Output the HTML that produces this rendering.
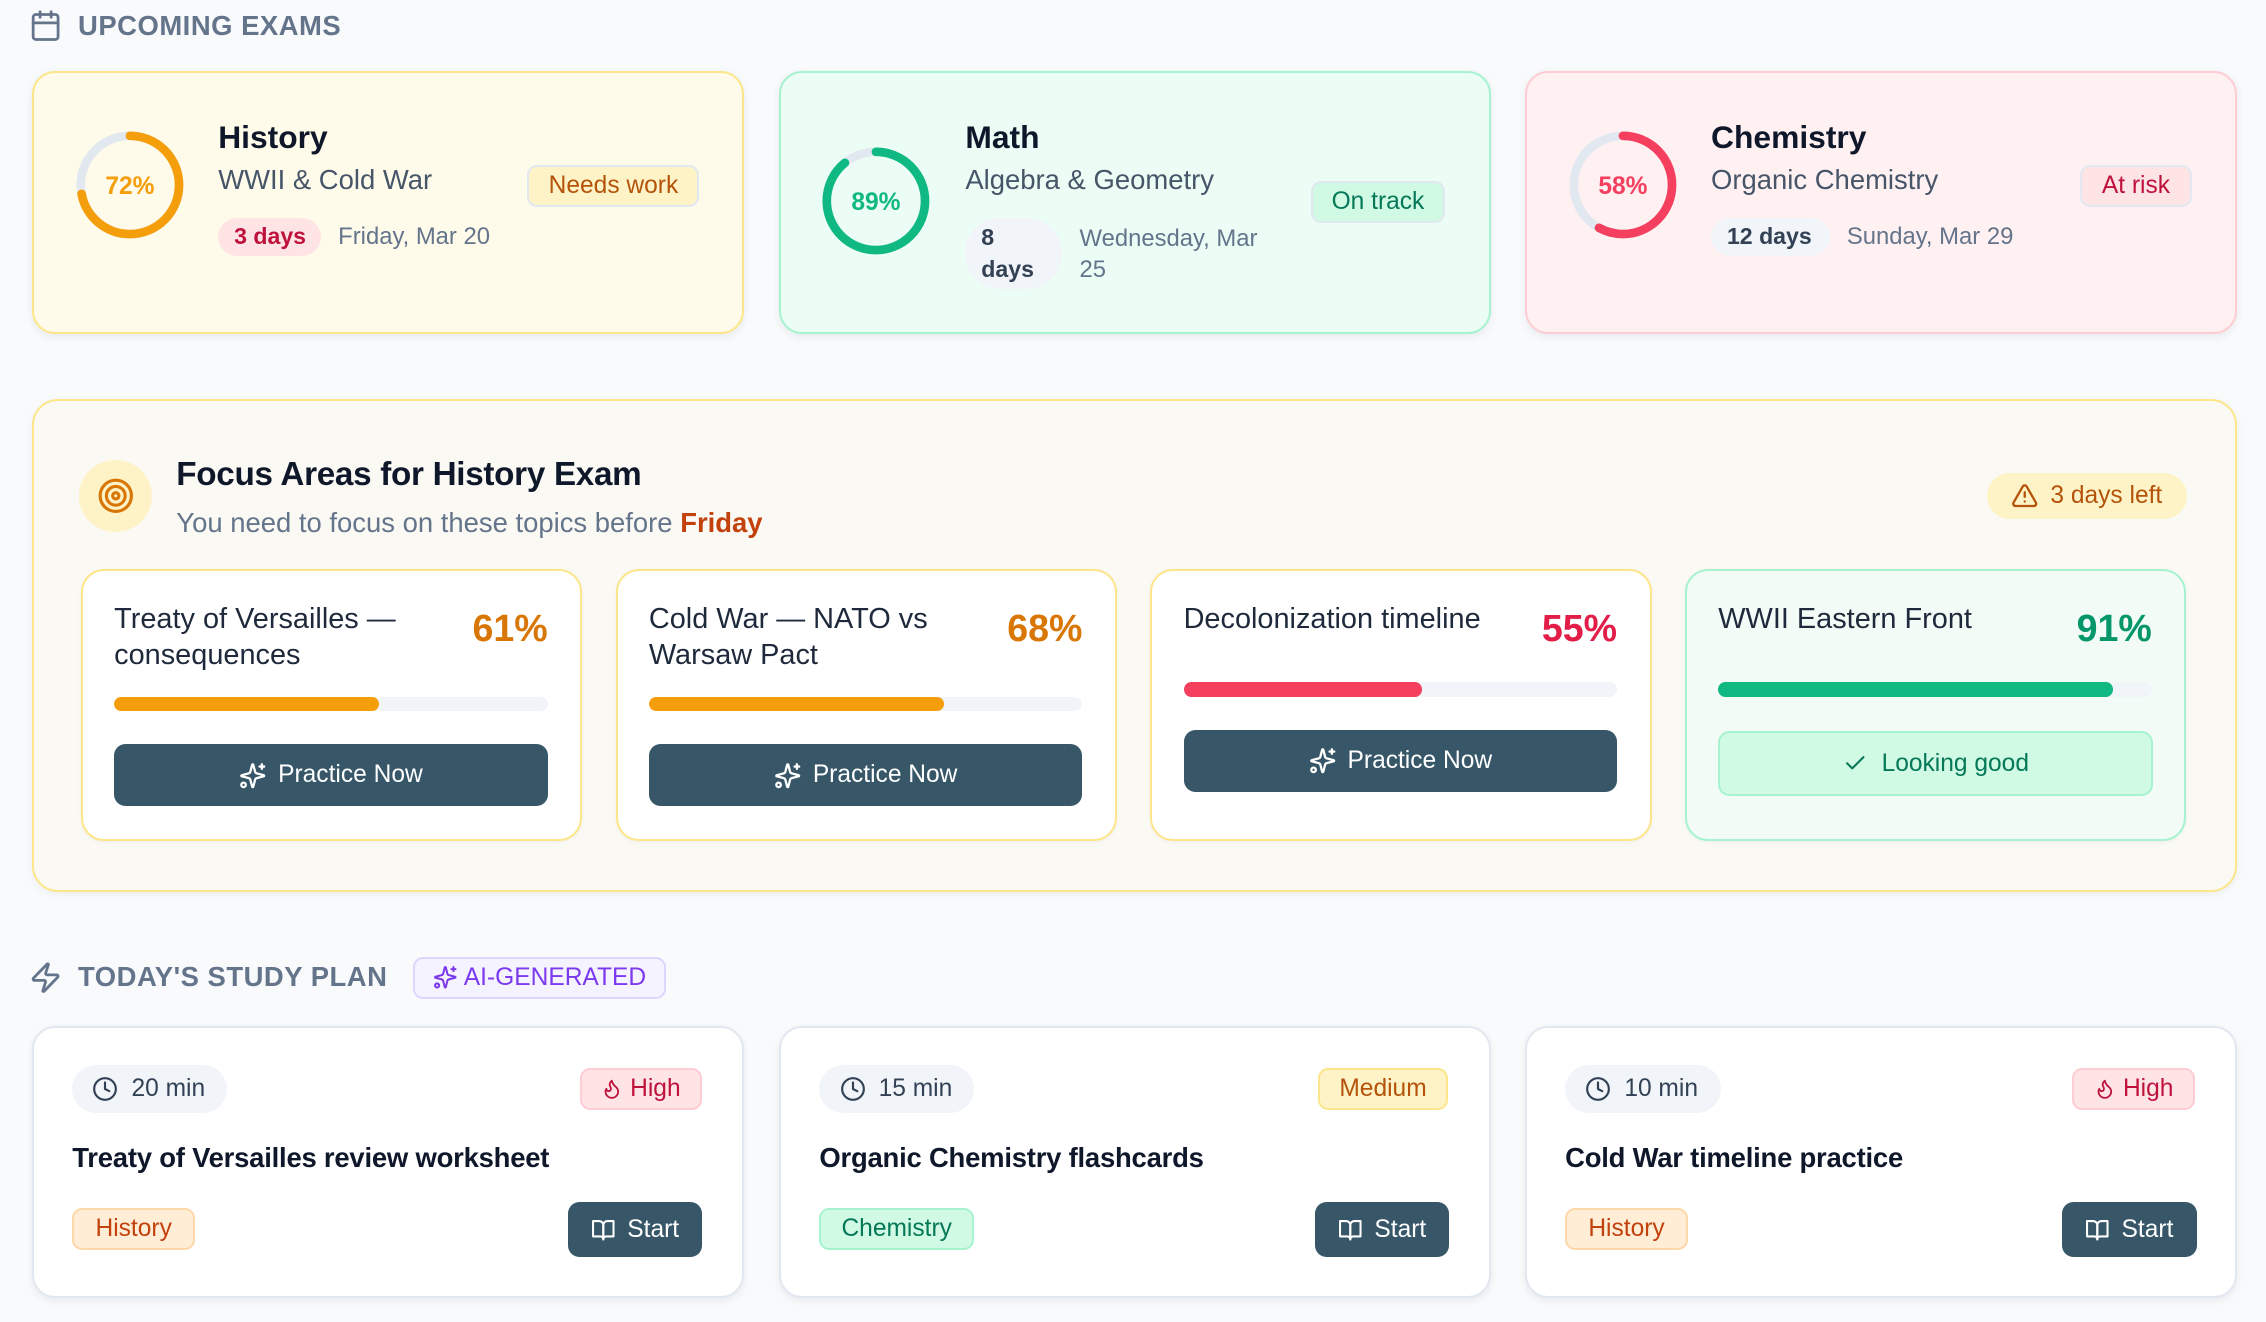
<!DOCTYPE html>
<html>
<head>
<meta charset="utf-8">
<style>
html,body{margin:0;padding:0;background:#f8fafc;width:2266px;height:1322px;overflow:hidden}
#r{position:absolute;left:0;top:0;width:1568px;height:915px;zoom:1.44515;font-family:"Liberation Sans",sans-serif;color:#0f172a}
.a{position:absolute;box-sizing:border-box;white-space:nowrap}
.ic{fill:none;stroke:currentColor;stroke-width:2;stroke-linecap:round;stroke-linejoin:round}
.h{font-size:19px;font-weight:700;color:#64748b;line-height:26px;letter-spacing:0.35px}
.ec{border:2px solid;border-radius:16px;width:493px;height:182px;top:49px;box-shadow:0 2px 6px rgba(15,23,42,.07)}
.et{font-size:22px;font-weight:700;color:#0f172a;line-height:30px;top:80px}
.es{font-size:19px;color:#475569;line-height:28px;top:111px}
.dp{font-size:16px;font-weight:700;border-radius:999px;padding:0 11px;line-height:26px;height:26px;top:151px}
.dd{font-size:16.5px;color:#64748b;line-height:22px;top:153px}
.bd{height:29px;border:1.5px solid #e2e8f0;border-radius:7px;font-size:17px;display:flex;align-items:center;justify-content:center}
.tc{top:394px;width:347px;height:188px;border:2px solid #fde68a;border-radius:16px;background:#fff;box-shadow:0 1px 3px rgba(0,0,0,.04)}
.tt{font-size:20px;color:#1e293b;line-height:25px;top:416px}
.tp{font-size:26px;font-weight:700;line-height:34px;top:418px;text-align:right;width:100px}
.tb{height:10px;border-radius:5px;background:#f1f5f9;width:300px;overflow:hidden}
.tb div{height:10px;border-radius:5px}
.pb{width:300px;height:43px;border-radius:8px;background:#375768;color:#fff;font-size:17px;display:flex;align-items:center;justify-content:center;gap:8px}
.sc{top:710px;width:493px;height:188px;border:1.5px solid #e2e8f0;border-radius:16px;background:#fff;box-shadow:0 2px 5px rgba(15,23,42,.07)}
.tm{top:737px;height:33px;border-radius:17px;background:#f1f5f9;display:flex;align-items:center;padding-left:14px;gap:9px;font-size:17px;color:#334155}
.pr{top:739px;height:29px;border-radius:7px;border:1.5px solid;display:flex;align-items:center;justify-content:center;gap:5px;font-size:17px}
.st{top:788px;font-size:19px;font-weight:700;letter-spacing:-0.15px;line-height:26px;color:#0f172a}
.tg{top:836px;height:29px;border-radius:7px;border:1.5px solid;display:flex;align-items:center;justify-content:center;font-size:17px}
.sb{top:832px;width:93px;height:38px;border-radius:8px;background:#375768;color:#fff;display:flex;align-items:center;justify-content:center;gap:8px;font-size:17px}
</style>
</head>
<body>
<div id="r">

<!-- Header 1 -->
<svg class="a ic" style="left:20px;top:6px;color:#64748b" width="23" height="23" viewBox="0 0 24 24"><path d="M8 2v4"/><path d="M16 2v4"/><rect width="18" height="18" x="3" y="4" rx="2"/><path d="M3 10h18"/></svg>
<div class="a h" style="left:54px;top:4.5px">UPCOMING EXAMS</div>

<!-- Exam cards -->
<div class="a ec" style="left:22px;background:#fffbeb;border-color:#fde68a"></div>
<div class="a ec" style="left:539px;background:#ecfdf5;border-color:#a7f3d0"></div>
<div class="a ec" style="left:1055px;background:#fff1f2;border-color:#fecdd3"></div>

<svg class="a" style="left:52px;top:90px" width="76" height="76" viewBox="0 0 76 76">
<circle cx="38" cy="38" r="34" fill="none" stroke="#e2e8f0" stroke-width="6"/>
<circle cx="38" cy="38" r="34" fill="none" stroke="#f59e0b" stroke-width="6" stroke-linecap="round" stroke-dasharray="153.8 300" transform="rotate(-90 38 38)"/>
<text x="38" y="39" text-anchor="middle" dominant-baseline="central" font-family="Liberation Sans, sans-serif" font-size="17" font-weight="700" fill="#f59e0b">72%</text>
</svg>
<svg class="a" style="left:568px;top:101px" width="76" height="76" viewBox="0 0 76 76">
<circle cx="38" cy="38" r="34" fill="none" stroke="#e2e8f0" stroke-width="6"/>
<circle cx="38" cy="38" r="34" fill="none" stroke="#10b981" stroke-width="6" stroke-linecap="round" stroke-dasharray="190.1 300" transform="rotate(-90 38 38)"/>
<text x="38" y="39" text-anchor="middle" dominant-baseline="central" font-family="Liberation Sans, sans-serif" font-size="17" font-weight="700" fill="#10b981">89%</text>
</svg>
<svg class="a" style="left:1085px;top:90px" width="76" height="76" viewBox="0 0 76 76">
<circle cx="38" cy="38" r="34" fill="none" stroke="#e2e8f0" stroke-width="6"/>
<circle cx="38" cy="38" r="34" fill="none" stroke="#f43f5e" stroke-width="6" stroke-linecap="round" stroke-dasharray="123.9 300" transform="rotate(-90 38 38)"/>
<text x="38" y="39" text-anchor="middle" dominant-baseline="central" font-family="Liberation Sans, sans-serif" font-size="17" font-weight="700" fill="#f43f5e">58%</text>
</svg>

<div class="a et" style="left:151px">History</div>
<div class="a es" style="left:151px">WWII &amp; Cold War</div>
<div class="a dp" style="left:151px;width:71px;background:#ffe4e6;color:#be123c">3 days</div>
<div class="a dd" style="left:234px">Friday, Mar 20</div>
<div class="a bd" style="left:365px;top:114px;width:119px;background:#fef3c7;color:#b45309">Needs work</div>

<div class="a et" style="left:668px">Math</div>
<div class="a es" style="left:668px">Algebra &amp; Geometry</div>
<div class="a dp" style="left:668px;width:67px;height:49px;line-height:22px;padding:2.5px 11px;border-radius:24px;background:#f1f5f9;color:#334155">8<br>days</div>
<div class="a dd" style="left:747px;top:154px">Wednesday, Mar<br>25</div>
<div class="a bd" style="left:907px;top:125px;width:93px;background:#d1fae5;color:#047857">On track</div>

<div class="a et" style="left:1184px">Chemistry</div>
<div class="a es" style="left:1184px">Organic Chemistry</div>
<div class="a dp" style="left:1184px;width:82px;background:#f1f5f9;color:#334155">12 days</div>
<div class="a dd" style="left:1278px">Sunday, Mar 29</div>
<div class="a bd" style="left:1439px;top:114px;width:78px;background:#ffe4e6;color:#be123c">At risk</div>

<!-- Focus section -->
<div class="a" style="left:22px;top:276px;width:1526px;height:341px;border:1.5px solid #fde68a;border-radius:18px;background:#fbf9f3;box-shadow:0 2px 6px rgba(0,0,0,.05)"></div>
<div class="a" style="left:55px;top:318px;width:50px;height:50px;border-radius:50%;background:#fef3c7"></div>
<svg class="a ic" style="left:67px;top:330px;color:#d97706" width="26" height="26" viewBox="0 0 24 24"><circle cx="12" cy="12" r="10"/><circle cx="12" cy="12" r="6"/><circle cx="12" cy="12" r="2"/></svg>
<div class="a" style="left:122px;top:313px;line-height:32px;font-size:23px;font-weight:700;letter-spacing:-0.2px;color:#0f172a">Focus Areas for History Exam</div>
<div class="a" style="left:122px;top:349px;line-height:26px;font-size:19px;color:#64748b">You need to focus on these topics before <b style="color:#c2410c">Friday</b></div>
<div class="a" style="left:1375px;top:327px;width:138px;height:32px;border-radius:16px;background:#fef3c7;color:#b45309;display:flex;align-items:center;justify-content:center;gap:8px;font-size:17px">
<svg class="ic" width="19" height="19" viewBox="0 0 24 24"><path d="m21.73 18-8-14a2 2 0 0 0-3.48 0l-8 14A2 2 0 0 0 4 21h16a2 2 0 0 0 1.73-3"/><path d="M12 9v4"/><path d="M12 17h.01"/></svg><span>3 days left</span></div>

<!-- Topic cards -->
<div class="a tc" style="left:56px"></div>
<div class="a tc" style="left:426px"></div>
<div class="a tc" style="left:796px"></div>
<div class="a tc" style="left:1166px;border-color:#a7f3d0;background:#f2fbf6"></div>

<div class="a tt" style="left:79px">Treaty of Versailles —<br>consequences</div>
<div class="a tp" style="left:279px;color:#d97706">61%</div>
<div class="a tb" style="left:79px;top:482px"><div style="width:183px;background:#f59e0b"></div></div>
<div class="a pb" style="left:79px;top:515px"><svg class="ic" width="19" height="19" viewBox="0 0 24 24"><path d="M9.937 15.5A2 2 0 0 0 8.5 14.063l-6.135-1.582a.5.5 0 0 1 0-.962L8.5 9.936A2 2 0 0 0 9.937 8.5l1.582-6.135a.5.5 0 0 1 .963 0L14.063 8.5A2 2 0 0 0 15.5 9.937l6.135 1.581a.5.5 0 0 1 0 .964L15.5 14.063a2 2 0 0 0-1.437 1.437l-1.582 6.135a.5.5 0 0 1-.963 0z"/><path d="M20 2v4"/><path d="M22 4h-4"/><circle cx="4" cy="20" r="2"/></svg><span>Practice Now</span></div>

<div class="a tt" style="left:449px">Cold War — NATO vs<br>Warsaw Pact</div>
<div class="a tp" style="left:649px;color:#d97706">68%</div>
<div class="a tb" style="left:449px;top:482px"><div style="width:204px;background:#f59e0b"></div></div>
<div class="a pb" style="left:449px;top:515px"><svg class="ic" width="19" height="19" viewBox="0 0 24 24"><path d="M9.937 15.5A2 2 0 0 0 8.5 14.063l-6.135-1.582a.5.5 0 0 1 0-.962L8.5 9.936A2 2 0 0 0 9.937 8.5l1.582-6.135a.5.5 0 0 1 .963 0L14.063 8.5A2 2 0 0 0 15.5 9.937l6.135 1.581a.5.5 0 0 1 0 .964L15.5 14.063a2 2 0 0 0-1.437 1.437l-1.582 6.135a.5.5 0 0 1-.963 0z"/><path d="M20 2v4"/><path d="M22 4h-4"/><circle cx="4" cy="20" r="2"/></svg><span>Practice Now</span></div>

<div class="a tt" style="left:819px">Decolonization timeline</div>
<div class="a tp" style="left:1019px;color:#e11d48">55%</div>
<div class="a tb" style="left:819px;top:472px"><div style="width:165px;background:#f43f5e"></div></div>
<div class="a pb" style="left:819px;top:505px"><svg class="ic" width="19" height="19" viewBox="0 0 24 24"><path d="M9.937 15.5A2 2 0 0 0 8.5 14.063l-6.135-1.582a.5.5 0 0 1 0-.962L8.5 9.936A2 2 0 0 0 9.937 8.5l1.582-6.135a.5.5 0 0 1 .963 0L14.063 8.5A2 2 0 0 0 15.5 9.937l6.135 1.581a.5.5 0 0 1 0 .964L15.5 14.063a2 2 0 0 0-1.437 1.437l-1.582 6.135a.5.5 0 0 1-.963 0z"/><path d="M20 2v4"/><path d="M22 4h-4"/><circle cx="4" cy="20" r="2"/></svg><span>Practice Now</span></div>

<div class="a tt" style="left:1189px">WWII Eastern Front</div>
<div class="a tp" style="left:1389px;color:#059669">91%</div>
<div class="a tb" style="left:1189px;top:472px"><div style="width:273px;background:#10b981"></div></div>
<div class="a" style="left:1189px;top:506px;width:301px;height:45px;border-radius:8px;background:#d1fae5;border:1.5px solid #a7f3d0;color:#047857;display:flex;align-items:center;justify-content:center;gap:10px;font-size:17px"><svg class="ic" width="17" height="17" viewBox="0 0 24 24"><path d="M20 6 9 17l-5-5"/></svg><span>Looking good</span></div>

<!-- Study plan header -->
<svg class="a ic" style="left:20px;top:665px;color:#64748b" width="23" height="23" viewBox="0 0 24 24"><path d="M4 14a1 1 0 0 1-.78-1.63l9.9-10.2a.5.5 0 0 1 .86.46l-1.92 6.02A1 1 0 0 0 13 10h7a1 1 0 0 1 .78 1.63l-9.9 10.2a.5.5 0 0 1-.86-.46l1.92-6.02A1 1 0 0 0 11 14z"/></svg>
<div class="a h" style="left:54px;top:663px">TODAY'S STUDY PLAN</div>
<div class="a" style="left:286px;top:662px;width:175px;height:29px;border-radius:7px;background:#f5f3ff;border:1.5px solid #ddd6fe;color:#7c3aed;display:flex;align-items:center;justify-content:center;gap:4px;font-size:17px"><svg class="ic" width="17" height="17" viewBox="0 0 24 24"><path d="M9.937 15.5A2 2 0 0 0 8.5 14.063l-6.135-1.582a.5.5 0 0 1 0-.962L8.5 9.936A2 2 0 0 0 9.937 8.5l1.582-6.135a.5.5 0 0 1 .963 0L14.063 8.5A2 2 0 0 0 15.5 9.937l6.135 1.581a.5.5 0 0 1 0 .964L15.5 14.063a2 2 0 0 0-1.437 1.437l-1.582 6.135a.5.5 0 0 1-.963 0z"/><path d="M20 2v4"/><path d="M22 4h-4"/><circle cx="4" cy="20" r="2"/></svg><span>AI-GENERATED</span></div>

<!-- Study cards -->
<div class="a sc" style="left:22px"></div>
<div class="a sc" style="left:539px"></div>
<div class="a sc" style="left:1055px"></div>

<!-- card 1 -->
<div class="a tm" style="left:50px;width:107px"><svg class="ic" width="18" height="18" viewBox="0 0 24 24"><circle cx="12" cy="12" r="10"/><polyline points="12 6 12 12 16 14"/></svg><span>20 min</span></div>
<div class="a pr" style="left:401px;width:85px;background:#ffe4e6;border-color:#fecdd3;color:#be123c"><svg class="ic" width="15" height="15" viewBox="0 0 24 24"><path d="M8.5 14.5A2.5 2.5 0 0 0 11 12c0-1.38-.5-2-1-3-1.072-2.143-.224-4.054 2-6 .5 2.5 2 4.9 4 6.5 2 1.6 3 3.5 3 5.5a7 7 0 1 1-14 0c0-1.153.433-2.294 1-3a2.5 2.5 0 0 0 2.5 2.5z"/></svg><span>High</span></div>
<div class="a st" style="left:50px">Treaty of Versailles review worksheet</div>
<div class="a tg" style="left:50px;width:85px;background:#ffedd5;border-color:#fed7aa;color:#c2410c">History</div>
<div class="a sb" style="left:393px"><svg class="ic" width="17" height="17" viewBox="0 0 24 24"><path d="M2 3h6a4 4 0 0 1 4 4v14a3 3 0 0 0-3-3H2z"/><path d="M22 3h-6a4 4 0 0 0-4 4v14a3 3 0 0 1 3-3h7z"/></svg><span>Start</span></div>

<!-- card 2 -->
<div class="a tm" style="left:567px;width:107px"><svg class="ic" width="18" height="18" viewBox="0 0 24 24"><circle cx="12" cy="12" r="10"/><polyline points="12 6 12 12 16 14"/></svg><span>15 min</span></div>
<div class="a pr" style="left:912px;width:90px;background:#fef3c7;border-color:#fde68a;color:#b45309"><span>Medium</span></div>
<div class="a st" style="left:567px">Organic Chemistry flashcards</div>
<div class="a tg" style="left:567px;width:107px;background:#d1fae5;border-color:#a7f3d0;color:#047857">Chemistry</div>
<div class="a sb" style="left:910px"><svg class="ic" width="17" height="17" viewBox="0 0 24 24"><path d="M2 3h6a4 4 0 0 1 4 4v14a3 3 0 0 0-3-3H2z"/><path d="M22 3h-6a4 4 0 0 0-4 4v14a3 3 0 0 1 3-3h7z"/></svg><span>Start</span></div>

<!-- card 3 -->
<div class="a tm" style="left:1083px;width:108px"><svg class="ic" width="18" height="18" viewBox="0 0 24 24"><circle cx="12" cy="12" r="10"/><polyline points="12 6 12 12 16 14"/></svg><span>10 min</span></div>
<div class="a pr" style="left:1434px;width:85px;background:#ffe4e6;border-color:#fecdd3;color:#be123c"><svg class="ic" width="15" height="15" viewBox="0 0 24 24"><path d="M8.5 14.5A2.5 2.5 0 0 0 11 12c0-1.38-.5-2-1-3-1.072-2.143-.224-4.054 2-6 .5 2.5 2 4.9 4 6.5 2 1.6 3 3.5 3 5.5a7 7 0 1 1-14 0c0-1.153.433-2.294 1-3a2.5 2.5 0 0 0 2.5 2.5z"/></svg><span>High</span></div>
<div class="a st" style="left:1083px">Cold War timeline practice</div>
<div class="a tg" style="left:1083px;width:85px;background:#ffedd5;border-color:#fed7aa;color:#c2410c">History</div>
<div class="a sb" style="left:1427px"><svg class="ic" width="17" height="17" viewBox="0 0 24 24"><path d="M2 3h6a4 4 0 0 1 4 4v14a3 3 0 0 0-3-3H2z"/><path d="M22 3h-6a4 4 0 0 0-4 4v14a3 3 0 0 1 3-3h7z"/></svg><span>Start</span></div>

</div>
</body>
</html>
